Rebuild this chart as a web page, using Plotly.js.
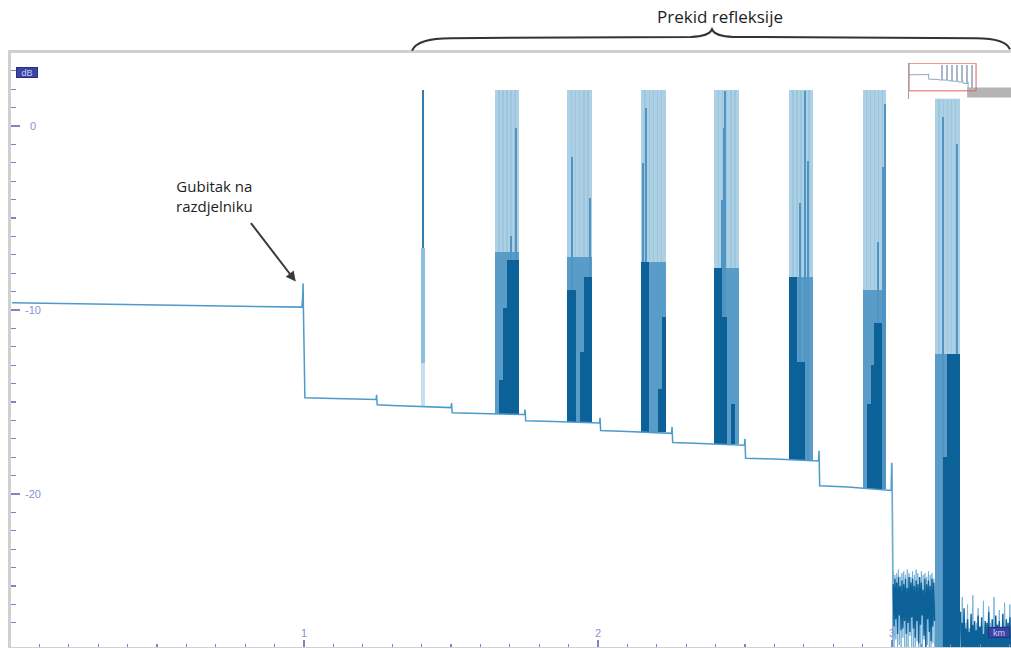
<!DOCTYPE html>
<html>
<head>
<meta charset="utf-8">
<script src="https://cdn.plot.ly/plotly-3.0.1.min.js"></script>
<style>html,body{margin:0;padding:0;background:#fff;overflow:hidden;}#chart{width:1011px;height:648px;}</style>
</head>
<body>
<div id="chart"></div>
<script>
// ---- axis ticks ----
const xTickVals = [1, 2, 3];
const xTickText = ["1", "2", "3"];
const yTickVals = [0, -10, -20];
const yTickText = ["0", "-10", "-20"];

// ---- main OTDR backscatter line (km, dB) ----
const mainX = [0.007, 0.25, 0.50, 0.75, 0.993, 0.995, 0.997, 0.998, 1.001, 1.003,
  1.10, 1.20, 1.245, 1.247, 1.249, 1.30, 1.40, 1.41, 1.50, 1.502,
  1.504, 1.60, 1.65, 1.73, 1.750, 1.752, 1.754, 1.85, 1.90, 1.98,
  2.005, 2.007, 2.009, 2.10, 2.15, 2.23, 2.250, 2.252, 2.254, 2.35,
  2.40, 2.48, 2.498, 2.500, 2.502, 2.60, 2.65, 2.73, 2.750, 2.752,
  2.754, 2.85, 2.90, 2.98, 2.997, 2.999, 3.001, 3.003];
const mainY = [-9.60, -9.66, -9.72, -9.77, -9.84, -9.40, -8.55, -9.90, -14.70, -14.76,
  -14.80, -14.84, -14.86, -14.60, -15.15, -15.18, -15.22, -15.25, -15.30, -15.05,
  -15.58, -15.62, -15.63, -15.66, -15.68, -15.40, -16.02, -16.06, -16.08, -16.12,
  -16.14, -15.85, -16.55, -16.60, -16.62, -16.68, -16.70, -16.35, -17.20, -17.25,
  -17.28, -17.33, -17.35, -17.00, -18.05, -18.10, -18.12, -18.18, -18.20, -17.65,
  -19.55, -19.62, -19.68, -19.78, -19.80, -18.30, -19.90, -24.80];

// ---- saturated reflection groups ----
const groupStart = [1.650, 1.895, 2.146, 2.395, 2.650, 2.901, 3.146];
const groupEnd   = [1.731, 1.980, 2.231, 2.480, 2.731, 2.980, 3.231];
const groupBase  = [-15.63, -16.10, -16.65, -17.30, -18.15, -19.72, -28.6];
const groupTop   = [1.95, 1.95, 1.95, 1.95, 1.95, 1.95, 1.95];
const groupMidTop = [-6.85, -7.1, -7.4, -7.7, -8.2, -8.9, -12.4];
// dark-colour tops for 6 sub-columns per group (null = none)
const groupDark = [
  [null, -13.8, -9.9, -7.3, -7.3, -7.3],
  [-8.9, -8.9, null, -12.3, -8.2, -8.2],
  [-7.4, -7.4, null, null, -14.3, -10.4],
  [-7.7, -7.7, -10.4, null, -15.1, null],
  [-8.2, -8.2, -12.8, -12.8, null, null],
  [null, -15.1, -13.0, -10.7, -10.7, null],
  [null, null, -18.0, -12.4, -12.4, -12.4]
];
// thin medium-colour traces rising above the medium block
const thinX    = [1.721, 1.704, 1.912, 1.973, 2.153, 2.162, 2.165, 2.422, 2.429, 2.432,
                  2.687, 2.704, 2.714, 2.952, 2.969, 2.976, 3.173, 3.221];
const thinTop  = [-0.1, -6.0, -1.7, -3.9, -2.0, 1.0, 0.5, -4.0, -0.1, 1.9,
                  -4.2, 1.9, -1.9, -6.3, -2.2, 1.2, 0.5, -1.0];
const thinBase = [-15.63, -15.63, -16.10, -16.10, -16.65, -16.65, -16.65, -17.30, -17.30, -17.30,
                  -18.15, -18.15, -18.15, -19.72, -19.72, -19.72, -28.6, -28.6];

// ---- single reflection spike ----
const spikeX = [1.405];
const spikeBase = [-15.25];
const spikeLow = [-12.9];
const spikeMid = [-6.6];
const spikeTop = [1.95];

// ---- noise after end of fibre ----
const noiseAX = [3.004, 3.007, 3.010, 3.013, 3.016, 3.019, 3.022, 3.025, 3.028, 3.031,
  3.034, 3.037, 3.040, 3.043, 3.046, 3.049, 3.052, 3.055, 3.058, 3.061,
  3.064, 3.067, 3.070, 3.073, 3.076, 3.079, 3.082, 3.085, 3.088, 3.091,
  3.094, 3.097, 3.100, 3.103, 3.106, 3.109, 3.112, 3.115, 3.118, 3.121,
  3.124, 3.127, 3.130, 3.133, 3.136, 3.139, 3.142, 3.145];
const noiseAY = [-24.9, -27.2, -24.6, -26.8, -24.8, -27.6, -24.5, -26.6, -25.0, -27.4,
  -24.7, -27.3, -24.9, -26.9, -24.6, -27.6, -25.1, -27.0, -24.5, -27.5,
  -24.8, -26.7, -24.6, -27.3, -25.0, -27.8, -24.7, -26.9, -24.9, -28.1,
  -24.5, -27.1, -24.8, -26.6, -25.2, -27.7, -24.6, -28.4, -24.9, -26.8,
  -24.7, -27.5, -25.0, -28.0, -24.6, -27.2, -24.8, -26.9];
const noiseALightX = [3.001, 3.002, 3.004, 3.007, 3.010, 3.013, 3.016, 3.019, 3.022, 3.025, 3.028, 3.031,
  3.034, 3.037, 3.040, 3.043, 3.046, 3.049, 3.052, 3.055, 3.058, 3.061,
  3.064, 3.067, 3.070, 3.073, 3.076, 3.079, 3.082, 3.085, 3.088, 3.091,
  3.094, 3.097, 3.100, 3.103, 3.106, 3.109, 3.112, 3.115, 3.118, 3.121,
  3.124, 3.127, 3.130, 3.133, 3.136, 3.139, 3.142, 3.145];
const noiseALightY = [-18.4, -28.6, -24.2, -28.6, -24.4, -27.9, -24.3, -28.6, -24.1, -28.2, -24.5, -28.6,
  -24.3, -27.8, -24.2, -28.6, -24.4, -28.4, -24.1, -28.6, -24.3, -27.7,
  -24.5, -28.6, -24.2, -28.3, -24.4, -28.6, -24.1, -28.0, -24.3, -28.6,
  -24.6, -28.5, -24.2, -28.6, -24.4, -27.9, -24.3, -28.6, -24.5, -28.2,
  -24.2, -28.6, -24.4, -28.6, -24.3, -28.1, -24.6, -28.6];
const noiseBX = [3.233, 3.236, 3.239, 3.242, 3.245, 3.248, 3.251, 3.254, 3.257, 3.260,
  3.263, 3.266, 3.269, 3.272, 3.275, 3.278, 3.281, 3.284, 3.287, 3.290,
  3.293, 3.296, 3.299, 3.302, 3.305, 3.308, 3.311, 3.314, 3.317, 3.320,
  3.323, 3.326, 3.329, 3.332, 3.335, 3.338, 3.341, 3.344, 3.347, 3.350,
  3.353, 3.356, 3.359, 3.362, 3.365, 3.368, 3.371, 3.374, 3.377, 3.380,
  3.383, 3.386, 3.389, 3.392, 3.395, 3.398, 3.401, 3.404];
const noiseBY = [-26.4, -28.6, -27.0, -28.6, -26.2, -28.6, -27.3, -28.6, -26.8, -28.6,
  -27.5, -28.6, -26.5, -28.6, -27.1, -28.6, -26.9, -28.6, -27.4, -28.6,
  -26.6, -28.6, -27.2, -28.6, -26.7, -28.6, -27.6, -28.6, -26.9, -28.6,
  -27.0, -28.6, -26.4, -28.6, -27.3, -28.6, -26.8, -28.6, -27.5, -28.6,
  -26.6, -28.6, -27.1, -28.6, -26.9, -28.6, -27.4, -28.6, -26.5, -28.6,
  -27.2, -28.6, -26.8, -28.6, -27.0, -28.6, -26.7, -28.6];
const noiseBLightY = [-27.2, -28.6, -25.6, -28.6, -27.4, -28.6, -27.0, -28.6, -26.0, -28.6,
  -27.3, -28.6, -27.1, -28.6, -25.5, -28.6, -27.4, -28.6, -27.0, -28.6,
  -26.2, -28.6, -27.3, -28.6, -27.1, -28.6, -25.8, -28.6, -27.2, -28.6,
  -27.4, -28.6, -26.1, -28.6, -27.0, -28.6, -27.3, -28.6, -25.6, -28.6,
  -27.1, -28.6, -27.4, -28.6, -26.3, -28.6, -27.2, -28.6, -27.0, -28.6,
  -25.9, -28.6, -27.3, -28.6, -27.1, -28.6, -26.0, -28.6];

// ---- overview inset: noise floor beyond the zoom window ----
const insetNoiseX = [2.95, 5.2, 5.2, 2.95];
const insetNoiseY = [-24.5, -24.5, -36.0, -36.0];

// ---------------- build traces ----------------
const C_LIGHT = '#aed0e5', C_STRIPE = '#9cc5de', C_MED = '#5a9cc8', C_DARK = '#0c6198', C_LINE = '#4e9bcb';
const NSUB = 6;
const lightBar = {x: [], y: [], base: [], width: []};
const stripeBar = {x: [], y: [], base: [], width: []};
const medBar = {x: [], y: [], base: [], width: []};
const darkBar = {x: [], y: [], base: [], width: []};
for (let g = 0; g < groupStart.length; g++) {
  const w = groupEnd[g] - groupStart[g];
  lightBar.x.push(groupStart[g] + w / 2);
  lightBar.width.push(w);
  lightBar.base.push(groupBase[g]);
  lightBar.y.push(groupTop[g] - groupBase[g]);
  medBar.x.push(groupStart[g] + w / 2);
  medBar.width.push(w);
  medBar.base.push(groupBase[g]);
  medBar.y.push(groupMidTop[g] - groupBase[g]);
  const sw = w / NSUB;
  for (let j = 0; j < NSUB; j++) {
    // faint boundary stripe between acquisition sub-columns in the saturated part
    if (j > 0) {
      stripeBar.x.push(groupStart[g] + j * sw); stripeBar.width.push(sw * 0.35);
      stripeBar.base.push(groupMidTop[g]); stripeBar.y.push(groupTop[g] - groupMidTop[g]);
    }
    if (groupDark[g][j] !== null) {
      darkBar.x.push(groupStart[g] + (j + 0.5) * sw); darkBar.width.push(sw * 1.02);
      darkBar.base.push(groupBase[g]); darkBar.y.push(groupDark[g][j] - groupBase[g]);
    }
  }
}
const thinBar = {x: thinX, base: thinBase, y: thinTop.map((v, i) => v - thinBase[i]),
  width: thinX.map(() => 0.006)};

function barTrace(b, color, xa, ya) {
  return {type: 'bar', x: b.x, y: b.y, base: b.base, width: b.width,
    marker: {color: color, line: {width: 0}}, hoverinfo: 'skip', showlegend: false,
    xaxis: xa || 'x', yaxis: ya || 'y'};
}
const traces = [
  {type: 'scatter', mode: 'lines', x: mainX, y: mainY, line: {color: C_LINE, width: 1.5},
   hoverinfo: 'skip', showlegend: false},
  barTrace(lightBar, C_LIGHT),
  barTrace(stripeBar, C_STRIPE),
  barTrace(medBar, C_MED),
  barTrace(thinBar, '#4f94c3'),
  barTrace(darkBar, C_DARK),
  {type: 'bar', x: spikeX, base: spikeBase, y: spikeLow.map((v, i) => v - spikeBase[i]), width: [0.014],
   marker: {color: '#c6e0ef', line: {width: 0}}, hoverinfo: 'skip', showlegend: false},
  {type: 'bar', x: spikeX, base: spikeLow, y: spikeMid.map((v, i) => v - spikeLow[i]), width: [0.011],
   marker: {color: '#8dbfdc', line: {width: 0}}, hoverinfo: 'skip', showlegend: false},
  {type: 'bar', x: spikeX, base: spikeMid, y: spikeTop.map((v, i) => v - spikeMid[i]), width: [0.009],
   marker: {color: '#2f7db3', line: {width: 0}}, hoverinfo: 'skip', showlegend: false},
  {type: 'scatter', mode: 'lines', x: noiseALightX, y: noiseALightY, line: {color: '#74b0d6', width: 0.9},
   hoverinfo: 'skip', showlegend: false},
  {type: 'scatter', mode: 'lines', x: noiseAX, y: noiseAY, line: {color: C_DARK, width: 1.4},
   hoverinfo: 'skip', showlegend: false},
  {type: 'scatter', mode: 'lines', x: noiseBX, y: noiseBLightY, line: {color: '#74b0d6', width: 0.9},
   hoverinfo: 'skip', showlegend: false},
  {type: 'scatter', mode: 'lines', x: noiseBX, y: noiseBY, line: {color: C_DARK, width: 1.4},
   hoverinfo: 'skip', showlegend: false},
  // inset overview
  {type: 'scatter', mode: 'lines', x: insetNoiseX, y: insetNoiseY, fill: 'toself', fillcolor: '#b4b4b4',
   line: {width: 0}, xaxis: 'x2', yaxis: 'y2', hoverinfo: 'skip', showlegend: false},
  {type: 'scatter', mode: 'lines', x: mainX, y: mainY, line: {color: '#8fa9c2', width: 1},
   xaxis: 'x2', yaxis: 'y2', hoverinfo: 'skip', showlegend: false},
  barTrace(lightBar, '#a9b8c9', 'x2', 'y2')
];

const tickCol = '#7d85c9';
const tickFont = {family: 'Liberation Sans, Arial, sans-serif', size: 11, color: '#8a90d2'};
const yLabelAnns = yTickVals.map((v, i) => ({xref: 'paper', yref: 'y', x: 0.022, y: v, text: yTickText[i],
  showarrow: false, xanchor: 'center', yanchor: 'middle', font: tickFont}));
const layout = {
  width: 1011, height: 648,
  margin: {l: 11, r: 0, t: 53, b: 1, pad: 0},
  paper_bgcolor: '#ffffff', plot_bgcolor: '#ffffff',
  barmode: 'overlay', bargap: 0, showlegend: false,
  xaxis: {range: [0.0034, 3.4048], showline: true, mirror: true, linecolor: '#d0d0d0', linewidth: 3,
    ticks: 'inside', ticklen: 7, tickwidth: 1.5, tickcolor: tickCol,
    tickmode: 'array', tickvals: xTickVals, ticktext: xTickText,
    ticklabelposition: 'inside', tickfont: tickFont,
    minor: {ticks: 'inside', ticklen: 3, tickwidth: 1.2, tickcolor: tickCol, tickmode: 'linear', tick0: 0, dtick: 0.1},
    showgrid: false, zeroline: false, fixedrange: true},
  yaxis: {range: [-28.31, 3.97], showline: true, mirror: false, linecolor: '#d0d0d0', linewidth: 3,
    ticks: 'inside', ticklen: 9, tickwidth: 1.5, tickcolor: tickCol,
    tickmode: 'array', tickvals: yTickVals, showticklabels: false,
    minor: {ticks: 'inside', ticklen: 5, tickwidth: 1.2, tickcolor: tickCol, tickmode: 'linear', tick0: 0, dtick: 1},
    showgrid: false, zeroline: false, fixedrange: true},
  xaxis2: {domain: [0.898, 1.0], anchor: 'y2', range: [0, 5.18], showticklabels: false, ticks: '',
    showgrid: false, zeroline: false, showline: false},
  yaxis2: {domain: [0.923, 0.983], anchor: 'x2', range: [-37.5, 4], showticklabels: false, ticks: '',
    showgrid: false, zeroline: false, showline: true, linecolor: '#a0a0a0', linewidth: 1},
  shapes: [
    {type: 'rect', xref: 'x2', yref: 'y2', x0: 0.003, x1: 3.405, y0: -28.31, y1: 3.97,
     line: {color: '#e06060', width: 1}, fillcolor: 'rgba(0,0,0,0)'},
    {type: 'path', xref: 'paper', yref: 'paper', layer: 'above',
     path: 'M 0.401,1.004 Q 0.406,1.025 0.44,1.025 L 0.68,1.027 Q 0.698,1.028 0.701,1.040 Q 0.704,1.028 0.722,1.027 L 0.965,1.025 Q 0.995,1.025 0.999,1.006',
     line: {color: '#333333', width: 2}}
  ],
  annotations: yLabelAnns.concat([
    {xref: 'paper', yref: 'paper', x: 0.016, y: 0.968, xanchor: 'center', yanchor: 'middle', text: 'dB', showarrow: false,
     width: 20, height: 9,
     font: {family: 'Liberation Sans, Arial', size: 9, color: '#c9ccff'},
     bgcolor: '#3c43a0', bordercolor: '#2a2f80', borderwidth: 1, borderpad: 0},
    {xref: 'paper', yref: 'paper', x: 0.988, y: 0.025, xanchor: 'center', yanchor: 'middle', text: 'km', showarrow: false,
     width: 20, height: 9,
     font: {family: 'Liberation Sans, Arial', size: 9, color: '#c9ccff'},
     bgcolor: '#3c43a0', bordercolor: '#2a2f80', borderwidth: 1, borderpad: 0},
    {xref: 'x', yref: 'y', x: 0.694, y: -3.78, text: 'Gubitak na<br>razdjelniku', showarrow: false,
     xanchor: 'center', yanchor: 'middle',
     align: 'center', font: {family: 'Open Sans, sans-serif', size: 15, color: '#1e1e1e'}},
    {xref: 'x', yref: 'y', x: 0.972, y: -8.45, text: '', showarrow: true,
     axref: 'pixel', ayref: 'pixel', ax: -46, ay: -60,
     arrowhead: 2, arrowsize: 1, arrowwidth: 2, arrowcolor: '#3a3a3a'},
    {xref: 'paper', yref: 'paper', x: 0.709, y: 1.061, xanchor: 'center', yanchor: 'middle', text: 'Prekid refleksije', showarrow: false,
     font: {family: 'Open Sans, sans-serif', size: 17, color: '#1e1e1e'}}
  ])
};
Plotly.newPlot('chart', traces, layout, {staticPlot: true, displayModeBar: false});
</script>
</body>
</html>
